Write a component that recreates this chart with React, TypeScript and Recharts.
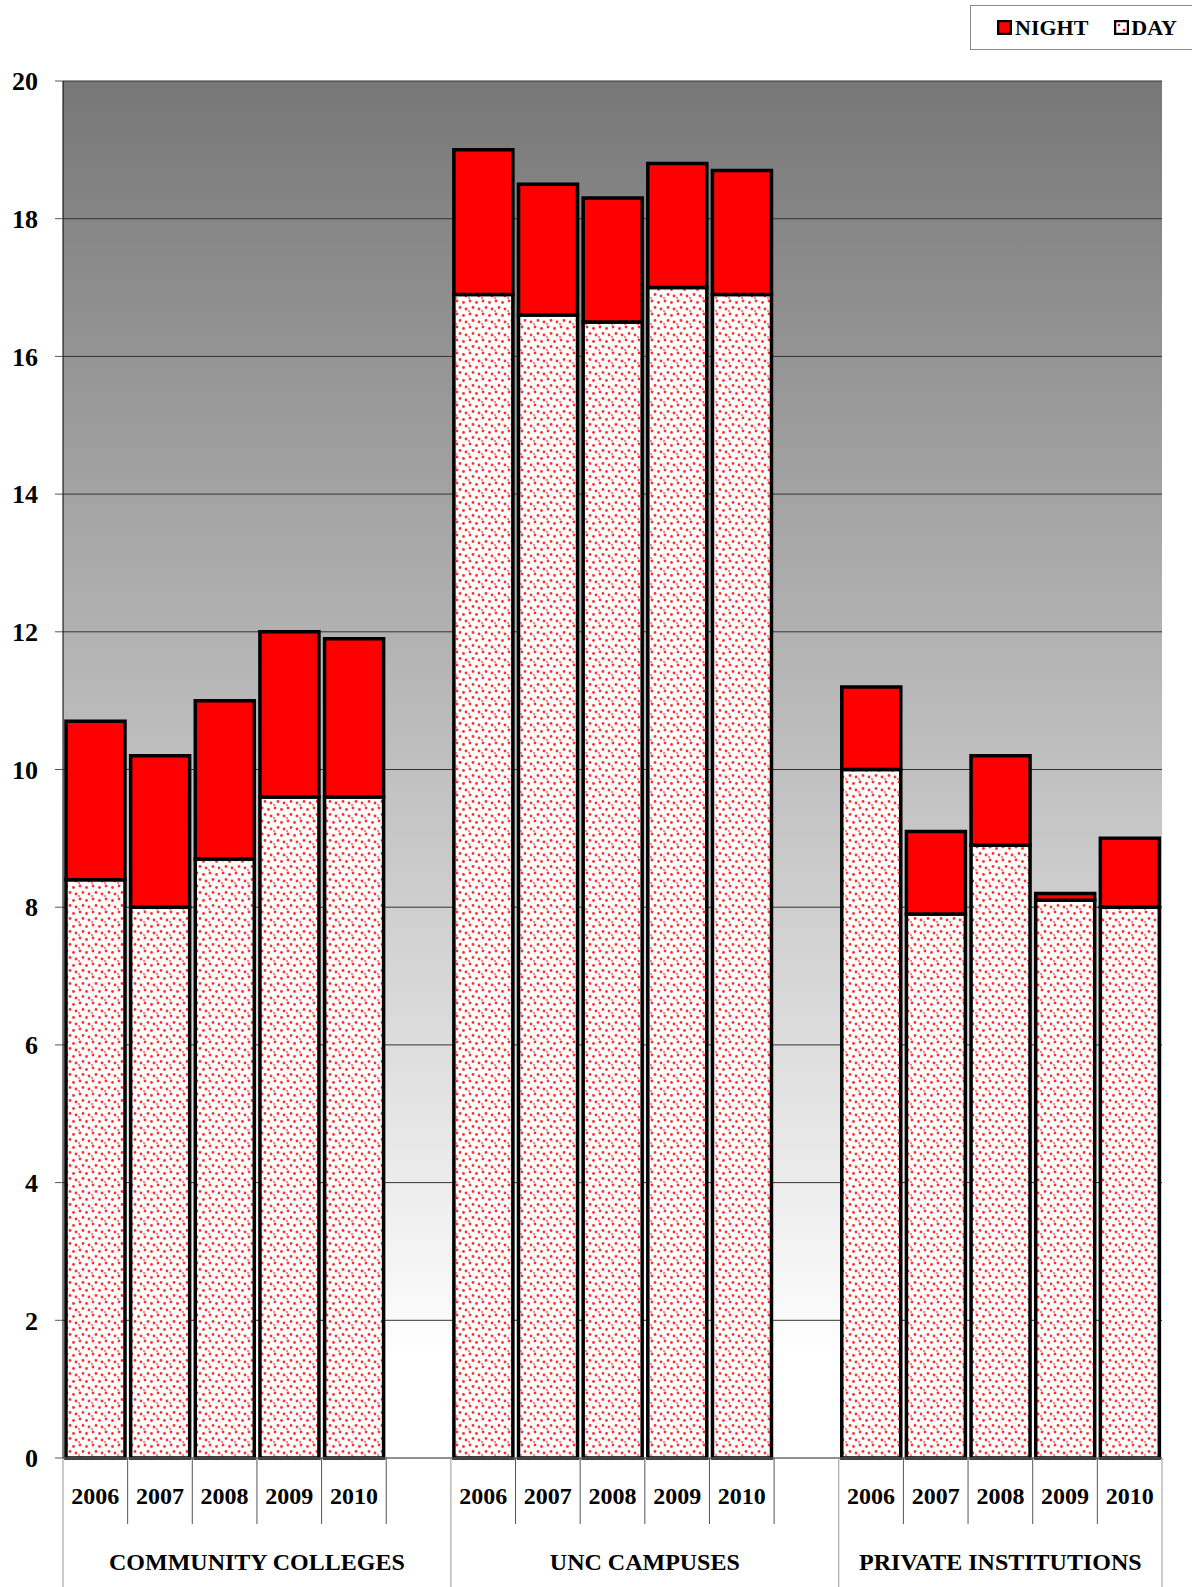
import { BarChart, Bar, XAxis, YAxis, CartesianGrid, Legend } from 'recharts'

const YEARS = ['2006', '2007', '2008', '2009', '2010']
const GROUPS = ['COMMUNITY COLLEGES', 'UNC CAMPUSES', 'PRIVATE INSTITUTIONS']
const DAY_CC = [8.4, 8.0, 8.7, 9.6, 9.6]
const NIGHT_CC = [2.3, 2.2, 2.3, 2.4, 2.3]
const DAY_UNC = [16.9, 16.6, 16.5, 17.0, 16.9]
const NIGHT_UNC = [2.1, 1.9, 1.8, 1.8, 1.8]
const DAY_PRIV = [10.0, 7.9, 8.9, 8.1, 8.0]
const NIGHT_PRIV = [1.2, 1.2, 1.3, 0.1, 1.0]
const Y_TICKS = [0, 2, 4, 6, 8, 10, 12, 14, 16, 18, 20]

const DAYS = [DAY_CC, DAY_UNC, DAY_PRIV]
const NIGHTS = [NIGHT_CC, NIGHT_UNC, NIGHT_PRIV]

// one row per bar, plus an empty slot after the first two groups
const rows: any[] = []
GROUPS.forEach((g, gi) => {
  YEARS.forEach((y, yi) => {
    rows.push({ key: `${gi}-${y}`, year: y, group: gi, day: DAYS[gi][yi], night: NIGHTS[gi][yi] })
  })
  if (gi < GROUPS.length - 1) rows.push({ key: `${gi}-gap`, year: '', group: gi, gap: true })
})

const W = 1192
const H = 1587
const M = { top: 81, right: 30, bottom: 0, left: 3 }
const Y_W = 60
const X_H = 129
const PLOT_L = M.left + Y_W
const PLOT_R = W - M.right
const BASE = H - X_H
const SLOT = (PLOT_R - PLOT_L) / rows.length
const FONT = "'Liberation Serif', 'Times New Roman', serif"

const groupStart = (i: number) => i === 0 || (rows[i - 1] && rows[i - 1].gap)

const XTick = ({ x, payload }: any) => {
  const i = payload.index
  const row = rows[i]
  const left = x - SLOT / 2
  const isStart = groupStart(i)
  const span = rows.filter((r) => r.group === row.group).length
  return (
    <g>
      <line x1={left} x2={left} y1={BASE} y2={isStart ? H : BASE + 66}
        stroke={isStart ? '#999' : '#555'} strokeWidth={1} />
      {i === rows.length - 1 && (
        <line x1={left + SLOT} x2={left + SLOT} y1={BASE} y2={H} stroke="#999" strokeWidth={1} />
      )}
      {row.year && (
        <text x={x} y={1504} textAnchor="middle" fontFamily={FONT} fontWeight="bold" fontSize={24} fill="#000">
          {row.year}
        </text>
      )}
      {isStart && (
        <text x={left + (span * SLOT) / 2} y={1570} textAnchor="middle" fontFamily={FONT}
          fontWeight="bold" fontSize={24} fill="#000">
          {GROUPS[row.group]}
        </text>
      )}
    </g>
  )
}

const LegendBox = () => (
  <div style={{ width: 240, height: 43, border: '1px solid #888', borderRight: 'none', background: '#fff',
    display: 'flex', alignItems: 'center', fontFamily: FONT, fontWeight: 'bold', fontSize: 22, color: '#000' }}>
    <svg width={15} height={15} style={{ marginLeft: 26, marginRight: 3 }}>
      <rect x={1} y={1} width={13} height={13} fill="#ff0000" stroke="#000" strokeWidth={2.5} />
    </svg>
    <span>NIGHT</span>
    <svg width={15} height={15} style={{ marginLeft: 26, marginRight: 2 }}>
      <rect x={1} y={1} width={13} height={13} fill="#fff" stroke="#000" strokeWidth={2.5} />
      <circle cx={5} cy={5} r={1.3} fill="#ff0000" />
      <circle cx={10} cy={10} r={1.3} fill="#ff0000" />
    </svg>
    <span>DAY</span>
  </div>
)

export default function App() {
  return (
    <div style={{ position: 'absolute', left: 0, top: 0, width: W, height: H, background: '#fff' }}>
      <BarChart width={W} height={H} data={rows} margin={M} barCategoryGap={3}>
        <defs>
          <linearGradient id="bgGrad" x1="0" y1="0" x2="0" y2="1">
            <stop offset="0%" stopColor="#777777" />
            <stop offset="93%" stopColor="#ffffff" />
            <stop offset="100%" stopColor="#ffffff" />
          </linearGradient>
          <pattern id="dots" patternUnits="userSpaceOnUse" width={13} height={13}>
            <rect width={13} height={13} fill="#fff" />
            <circle cx={2} cy={2} r={1.4} fill="#ff3030" />
            <circle cx={8.5} cy={3.5} r={1.4} fill="#ff3030" />
            <circle cx={5} cy={8.5} r={1.4} fill="#ff3030" />
            <circle cx={11} cy={10} r={1.4} fill="#ff3030" />
            <circle cx={1} cy={12} r={1} fill="#ff6060" />
          </pattern>
        </defs>
        <CartesianGrid vertical={false} stroke="#333" fill="url(#bgGrad)" fillOpacity={1} />
        <XAxis dataKey="key" height={X_H} interval={0} tick={<XTick />} tickLine={false}
          axisLine={{ stroke: '#888' }} />
        <YAxis width={Y_W} domain={[0, 20]} ticks={Y_TICKS} interval={0} tickSize={8} tickMargin={17}
          axisLine={{ stroke: '#000' }} tickLine={{ stroke: '#555' }}
          tick={{ fontFamily: FONT, fontWeight: 'bold', fontSize: 26, fill: '#000' }} />
        <Legend layout="horizontal" verticalAlign="middle" align="center" content={<LegendBox />}
          wrapperStyle={{ position: 'absolute', top: 5, left: 970, width: 240 }} />
        <Bar dataKey="day" stackId="a" fill="url(#dots)" stroke="#000" strokeWidth={3.5} isAnimationActive={false} />
        <Bar dataKey="night" stackId="a" fill="#ff0000" stroke="#000" strokeWidth={3.5} isAnimationActive={false} />
      </BarChart>
    </div>
  )
}
